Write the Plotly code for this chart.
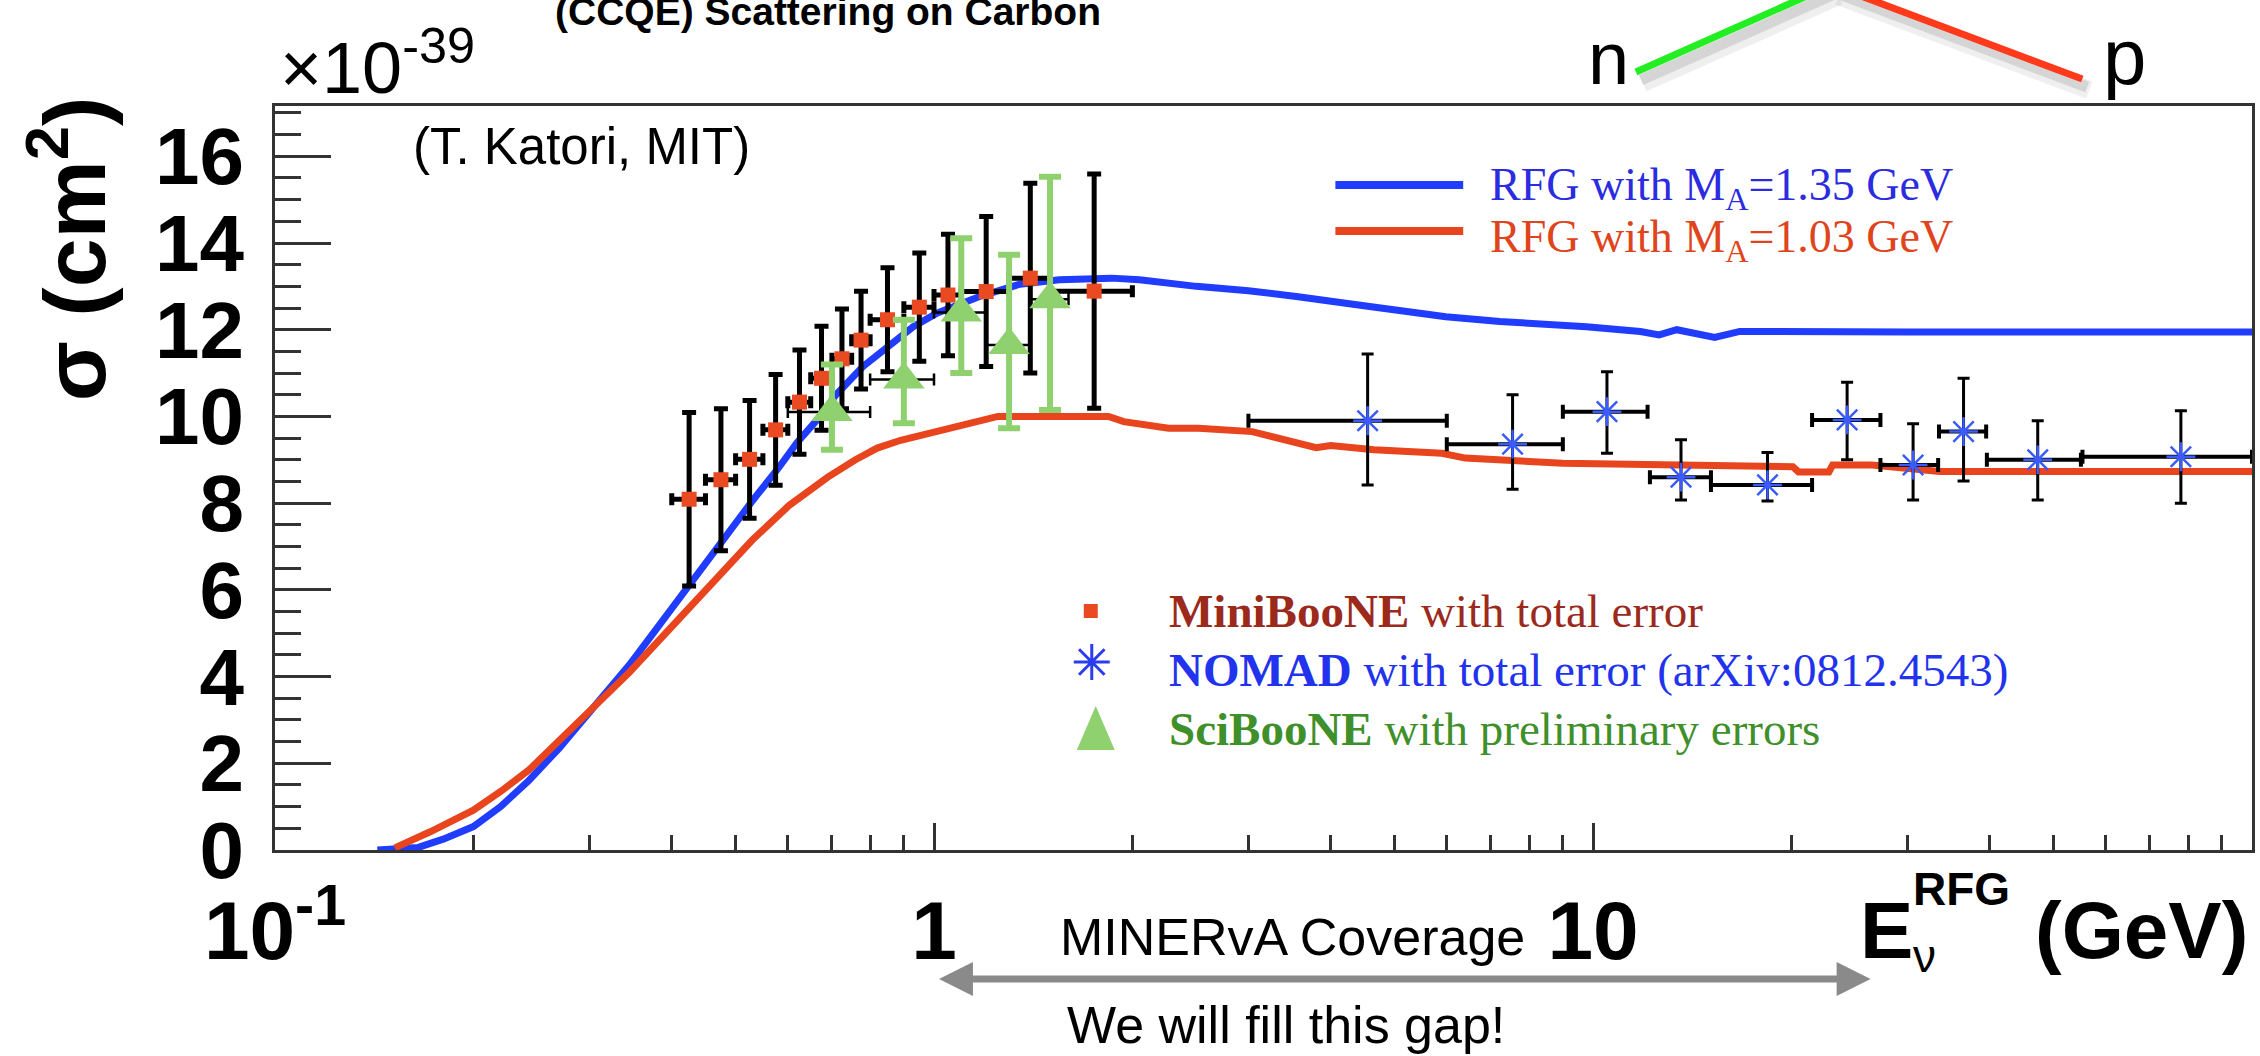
import plotly.graph_objects as go

# ---------------- data ----------------
# RFG model curves, sigma in 1e-39 cm^2 vs E_nu (GeV)
rfg135_E = [0.143, 0.165, 0.18, 0.20, 0.22, 0.243, 0.27, 0.30, 0.345, 0.375, 0.406, 0.435,
            0.49, 0.53, 0.58, 0.62, 0.676, 0.71, 0.78, 0.855, 0.93, 1.01, 1.17, 1.35, 1.55,
            1.86, 2.05, 2.5, 3.0, 3.57, 3.9, 4.61, 5.98, 7.22, 9.77, 11.8, 12.6, 13.4, 15.3,
            16.7, 30.0, 100.0]
rfg135_sig = [0.0, 0.06, 0.25, 0.54, 1.0, 1.61, 2.35, 3.15, 4.27, 5.0, 5.7, 6.35,
              7.4, 8.05, 8.8, 9.4, 10.05, 10.5, 11.15, 11.61, 12.07, 12.38, 12.76, 13.05, 13.15,
              13.19, 13.15, 13.0, 12.9, 12.76, 12.69, 12.53, 12.30, 12.19, 12.07, 11.96, 11.88, 12.0, 11.82,
              11.96, 11.95, 11.95]

rfg103_E = [0.152, 0.172, 0.20, 0.22, 0.243, 0.27, 0.30, 0.345, 0.375, 0.406, 0.44, 0.49,
            0.53, 0.603, 0.69, 0.76, 0.82, 0.89, 1.04, 1.17, 1.25, 1.84, 1.94, 2.27, 2.52,
            3.04, 3.18, 3.6, 3.8, 4.0, 4.65, 5.9, 6.4, 9.0, 13.1, 20.1, 20.5, 22.8, 23.1,
            26.5, 33.6, 100.0]
rfg103_sig = [0.05, 0.42, 0.92, 1.35, 1.85, 2.5, 3.2, 4.1, 4.7, 5.25, 5.85, 6.6,
              7.15, 7.95, 8.6, 9.0, 9.27, 9.45, 9.72, 9.92, 10.0, 10.0, 9.88, 9.73, 9.73,
              9.65, 9.57, 9.38, 9.28, 9.33, 9.23, 9.15, 9.04, 8.92, 8.88, 8.84, 8.72, 8.72, 8.88,
              8.88, 8.73, 8.73]

# MiniBooNE
mb_E = [0.425, 0.475, 0.525, 0.575, 0.625, 0.675, 0.725, 0.775, 0.85, 0.95, 1.05, 1.2, 1.4, 1.75]
mb_dE = [0.025, 0.025, 0.025, 0.025, 0.025, 0.025, 0.025, 0.025, 0.05, 0.05, 0.05, 0.1, 0.1, 0.25]
mb_sig = [8.09, 8.54, 9.01, 9.69, 10.33, 10.88, 11.33, 11.76, 12.23, 12.52, 12.80, 12.88, 13.19, 12.89]
mb_err = [2.0, 1.64, 1.36, 1.28, 1.2, 1.2, 1.15, 1.13, 1.2, 1.25, 1.4, 1.73, 2.19, 2.7]

# SciBooNE
sb_E = [0.7, 0.9, 1.1, 1.3, 1.5]
sb_dE = [0.1, 0.1, 0.1, 0.1, 0.1]
sb_sig = [10.1, 10.85, 12.4, 11.65, 12.7]
sb_err_up = [1.1, 1.38, 1.71, 2.08, 2.83]
sb_err_dn = [0.87, 1.01, 1.4, 1.92, 2.55]

# NOMAD
nd_E = [4.55, 7.55, 10.5, 13.6, 18.4, 24.3, 30.6, 36.5, 47.3, 78.0]
nd_E_lo = [3.0, 6.0, 9.0, 12.2, 15.1, 21.5, 27.3, 33.5, 39.6, 55.3]
nd_E_hi = [6.0, 9.0, 12.1, 15.1, 21.5, 27.3, 33.4, 39.5, 55.0, 100.0]
nd_sig = [9.90, 9.36, 10.11, 8.60, 8.42, 9.92, 8.88, 9.65, 9.00, 9.07]
nd_sig_hi = [11.44, 10.50, 11.03, 9.46, 9.17, 10.79, 9.83, 10.88, 9.90, 10.13]
nd_sig_lo = [8.42, 8.32, 9.15, 8.07, 8.05, 9.00, 8.07, 8.51, 8.07, 8.00]

x_tickvals = [0.1, 1, 10]
x_ticktext = ["10<sup>-1</sup>", "1", "10"]
x_minor = [0.2, 0.3, 0.4, 0.5, 0.6, 0.7, 0.8, 0.9, 2, 3, 4, 5, 6, 7, 8, 9,
           20, 30, 40, 50, 60, 70, 80, 90]
y_tickvals = [0, 2, 4, 6, 8, 10, 12, 14, 16]

# ---------------- layout geometry (pixels) ----------------
W, H = 2260, 1056
L, R, T, B = 275, 2255, 106, 850

SANS = "Liberation Sans, Arial, Helvetica, sans-serif"
SERIF = "Liberation Serif, Times New Roman, Times, serif"

def px(x):
    return (x - L) / (R - L)

def py(y):
    return (B - y) / (B - T)

BLUE = "#1f3cff"
RED = "#e8441e"
GREEN = "#8ed16e"
NOMAD_BLUE = "#3a5bff"

fig = go.Figure()

fig.add_trace(go.Scatter(x=rfg135_E, y=rfg135_sig, mode="lines",
                         line=dict(color=BLUE, width=7), showlegend=False, hoverinfo="skip"))
fig.add_trace(go.Scatter(x=rfg103_E, y=rfg103_sig, mode="lines",
                         line=dict(color=RED, width=7), showlegend=False, hoverinfo="skip"))

fig.add_trace(go.Scatter(
    x=mb_E, y=mb_sig, mode="markers", showlegend=False,
    marker=dict(symbol="square", size=15, color="#ea4a22"),
    error_y=dict(type="data", array=mb_err, color="black", thickness=5, width=7),
    error_x=dict(type="data", array=mb_dE, color="black", thickness=5, width=6)))

fig.add_trace(go.Scatter(
    x=sb_E, y=sb_sig, mode="markers", showlegend=False,
    marker=dict(symbol="triangle-up", size=36, color=GREEN),
    error_y=dict(type="data", symmetric=False, array=sb_err_up, arrayminus=sb_err_dn,
                 color=GREEN, thickness=6, width=11),
    error_x=dict(type="data", array=sb_dE, color="black", thickness=2.5, width=6)))

fig.add_trace(go.Scatter(
    x=nd_E, y=nd_sig, mode="markers", showlegend=False,
    marker=dict(symbol="asterisk-open", size=24, color=NOMAD_BLUE,
                line=dict(color=NOMAD_BLUE, width=2.5)),
    error_y=dict(type="data", symmetric=False,
                 array=[h - s for h, s in zip(nd_sig_hi, nd_sig)],
                 arrayminus=[s - l for s, l in zip(nd_sig, nd_sig_lo)],
                 color="black", thickness=3, width=6),
    error_x=dict(type="data", symmetric=False,
                 array=[h - e for h, e in zip(nd_E_hi, nd_E)],
                 arrayminus=[e - l for e, l in zip(nd_E, nd_E_lo)],
                 color="black", thickness=4, width=7)))

# legend marker key (asterisk) on an overlay axis spanning the plot area in [0,1]
fig.add_trace(go.Scatter(x=[px(1093)], y=[py(662)], xaxis="x2", yaxis="y2", mode="markers",
                         showlegend=False, hoverinfo="skip",
                         marker=dict(symbol="asterisk-open", size=30, color="#2a3cf0",
                                     line=dict(color="#2a3cf0", width=3))))

shapes = []
annotations = []

def text(t, x, baseline, size, color="black", family=SANS, anchor="left", k=0.3465):
    annotations.append(dict(text=t, x=px(x), y=py(baseline - k * size), xref="paper", yref="paper",
                            xanchor=anchor, yanchor="middle", showarrow=False,
                            font=dict(family=family, size=size, color=color)))

def seg(x0, y0, x1, y1, color, width, opacity=1.0):
    shapes.append(dict(type="line", xref="paper", yref="paper", x0=px(x0), y0=py(y0),
                       x1=px(x1), y1=py(y1), line=dict(color=color, width=width),
                       opacity=opacity, layer="above"))

def poly(pts, color):
    d = "M " + " L ".join(f"{px(a):.5f},{py(b):.5f}" for a, b in pts) + " Z"
    shapes.append(dict(type="path", xref="paper", yref="paper", path=d,
                       fillcolor=color, line=dict(width=0), layer="above"))

# title fragment (cut at top, as in the reference)
text("<b>(CCQE) Scattering on Carbon</b>", 553, 25, 39)

# x10^-39
annotations.append(dict(text="×10<sup>-39</sup>", x=px(278), y=py(93 + 0.212 * 72 + 2),
                        xref="paper", yref="paper", xanchor="left", yanchor="bottom",
                        showarrow=False, font=dict(family=SANS, size=72, color="black")))

# author
text("(T. Katori, MIT)", 411, 164, 51)

# y title (rotated)
annotations.append(dict(text="<b>σ (cm<sup>2</sup>)</b>", x=px(68), y=py(249), xref="paper", yref="paper",
                        xanchor="center", yanchor="middle", textangle=-90, showarrow=False,
                        font=dict(family=SANS, size=88, color="black")))

# x title pieces
text("<b>E</b>", 1860, 958, 80)
text("<b>RFG</b>", 1913, 905, 46)
text("ν", 1913, 972, 46)
text("<b>(GeV)</b>", 2036, 958, 80)

# model legend
seg(1337, 185, 1465, 185, BLUE, 8)
seg(1337, 231, 1465, 231, RED, 8)
text("RFG with M<sub>A</sub>=1.35 GeV", 1490, 204, 46, color="#2b2be0", family=SERIF, k=0.3375)
text("RFG with M<sub>A</sub>=1.03 GeV", 1490, 256, 46, color="#e0441c", family=SERIF, k=0.3375)

# data legend
shapes.append(dict(type="rect", xref="paper", yref="paper", x0=px(1085), x1=px(1099),
                   y0=py(618), y1=py(604), fillcolor="#ea4a22", line=dict(width=0)))
poly([(1078, 750), (1116, 750), (1097, 706)], GREEN)
text("<b>MiniBooNE</b> with total error", 1168, 627, 47, color="#9b2a1c", family=SERIF, k=0.3375)
text("<b>NOMAD</b> with total error (arXiv:0812.4543)", 1168, 686, 47, color="#2233ee", family=SERIF, k=0.3375)
text("<b>SciBooNE</b> with preliminary errors", 1168, 745, 47, color="#3f8f2a", family=SERIF, k=0.3375)

# MINERvA coverage arrow + texts
text("MINERvA Coverage", 1059, 955, 52)
text("We will fill this gap!", 1066, 1043, 52)
seg(960, 979, 1853, 979, "#8a8a8a", 7)
poly([(940, 979), (974, 962), (974, 996)], "#8a8a8a")
poly([(1873, 979), (1839, 962), (1839, 996)], "#8a8a8a")

# n -- p diagram fragment with soft shadow
for dx, dy, wdt, op in [(7, 11, 18, 0.08), (5, 8, 11, 0.14)]:
    seg(1638 + dx, 72 + dy, 1834 + dx, -15 + dy, "#404040", wdt, op)
    seg(1834 + dx, -15 + dy, 2085 + dx, 79 + dy, "#404040", wdt, op)
seg(1638, 72, 1834, -15, "#22ee22", 7)
seg(1834, -15, 2085, 79, "#ff3a1a", 7)
text("n", 1588, 84, 74)
text("p", 2104, 84, 78)

fig.update_layout(
    width=W, height=H,
    margin=dict(l=L, r=W - R, t=T, b=H - B, pad=0),
    paper_bgcolor="white", plot_bgcolor="white",
    showlegend=False,
    shapes=shapes, annotations=annotations,
    xaxis=dict(type="log", range=[-1, 2], showgrid=False, zeroline=False,
               showline=True, linecolor="#333", linewidth=3, mirror=True,
               tickmode="array", tickvals=x_tickvals, ticktext=x_ticktext,
               ticks="inside", ticklen=27, tickwidth=3, tickcolor="#333",
               ticklabelstandoff=8,
               tickfont=dict(family=SANS, size=82, color="black", weight="bold"),
               minor=dict(tickmode="array", tickvals=x_minor, ticks="inside",
                          ticklen=15, tickwidth=2.5, tickcolor="#333", showgrid=False)),
    yaxis=dict(range=[0, 17.16], showgrid=False, zeroline=False,
               showline=True, linecolor="#333", linewidth=3, mirror=True,
               tickmode="array", tickvals=y_tickvals,
               ticks="inside", ticklen=56, tickwidth=3, tickcolor="#333",
               ticklabelstandoff=12,
               tickfont=dict(family=SANS, size=80, color="black", weight="bold"),
               minor=dict(dtick=0.5, tick0=0, ticks="inside", ticklen=26, tickwidth=2.5,
                          tickcolor="#333", showgrid=False)),
    xaxis2=dict(overlaying="x", range=[0, 1], visible=False),
    yaxis2=dict(overlaying="y", range=[0, 1], visible=False),
)

fig.write_html("out.html")
